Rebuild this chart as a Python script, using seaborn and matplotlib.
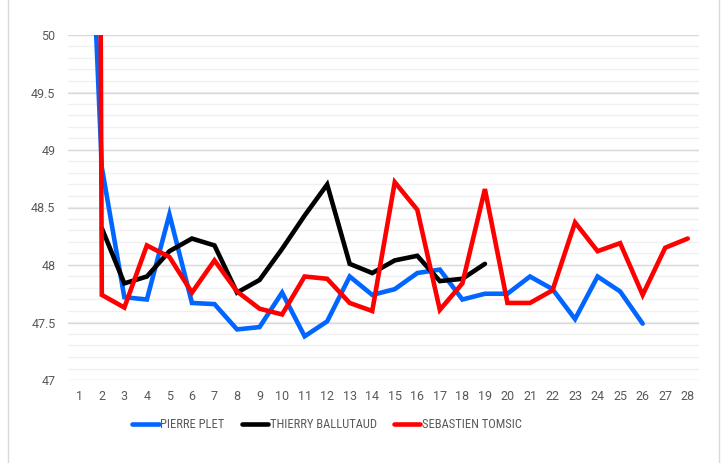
import numpy as np
import pandas as pd
import matplotlib
matplotlib.use('Agg')
import matplotlib.pyplot as plt
import seaborn as sns
from matplotlib.patches import Rectangle

# Data (NaN = no value for that round)
rounds = list(range(1, 29))
pierre = [53.5, 48.85, 47.72, 47.70, 48.44, 47.67, 47.66, 47.44, 47.46, 47.76,
          47.38, 47.51, 47.90, 47.74, 47.79, 47.93, 47.96, 47.70, 47.75, 47.75,
          47.90, 47.79, 47.53, 47.90, 47.77, 47.49, np.nan, np.nan]
thierry = [np.nan, 48.32, 47.84, 47.90, 48.12, 48.23, 48.17, 47.76, 47.87, 48.14,
           48.43, 48.70, 48.01, 47.93, 48.04, 48.08, 47.86, 47.88, 48.01, np.nan,
           np.nan, np.nan, np.nan, np.nan, np.nan, np.nan, np.nan, np.nan]
sebastien = [95.0, 47.74, 47.63, 48.17, 48.07, 47.76, 48.04, 47.77, 47.62, 47.57,
             47.90, 47.88, 47.67, 47.60, 48.72, 48.48, 47.61, 47.84, 48.66, 47.67,
             47.67, 47.78, 48.37, 48.12, 48.19, 47.74, 48.15, 48.23]
names = ['PIERRE PLET', 'THIERRY BALLUTAUD', 'SEBASTIEN TOMSIC']
colors = ['#0066FF', '#000000', '#FF0000']

df = pd.DataFrame({'round': rounds * 3,
                   'value': pierre + thierry + sebastien,
                   'pilot': [n for n in names for _ in rounds]}).dropna()

sns.set_style('white')
plt.rcParams['font.family'] = ['Roboto', 'DejaVu Sans']

fig = plt.figure(figsize=(7.26, 4.63), dpi=100)
ax = fig.add_axes([68 / 726, 1 - 380 / 463, 631 / 726, 345 / 463])

# chart area border
fig.patches.append(Rectangle((8 / 726, -0.05), 711 / 726, 1.1, transform=fig.transFigure,
                             fill=False, edgecolor='#D9D9D9', linewidth=1.0))

# gridlines
for v in np.arange(47.1, 50.0, 0.1):
    ax.axhline(v, color='#F0F0F0', linewidth=1.0, zorder=0)
for v in np.arange(47.0, 50.01, 0.5):
    ax.axhline(v, color='#D9D9D9', linewidth=1.0, zorder=0)

sns.lineplot(data=df, x='round', y='value', hue='pilot', hue_order=names,
             palette=colors, linewidth=3.3, ax=ax, legend=False, sort=False,
             estimator=None)
for line in ax.lines[-3:]:
    line.set_solid_joinstyle('miter')
    line.set_solid_capstyle('round')

ax.set_xlim(0.5, 28.5)
ax.set_ylim(47, 50)
ax.set_xticks(rounds)
ax.set_yticks([47, 47.5, 48, 48.5, 49, 49.5, 50])
ax.set_yticklabels(['47', '47.5', '48', '48.5', '49', '49.5', '50'])
ax.tick_params(axis='both', length=0, labelsize=9, labelcolor='#595959')
ax.tick_params(axis='y', pad=9)
ax.tick_params(axis='x', pad=7)
ax.set_xlabel('')
ax.set_ylabel('')
sns.despine(ax=ax, left=True, bottom=True)

handles = [plt.Line2D([], [], color=c, linewidth=3.3, solid_capstyle='round') for c in colors]
fig.legend(handles, names, loc='center', bbox_to_anchor=(327 / 726, 1 - 425 / 463), ncol=3,
           frameon=False, handlelength=2.1, handletextpad=0.15, columnspacing=1.35,
           prop={'family': ['Liberation Sans Narrow', 'Roboto Condensed', 'Roboto'], 'size': 9},
           labelcolor='#595959')

fig.savefig('out.png', dpi=100)
